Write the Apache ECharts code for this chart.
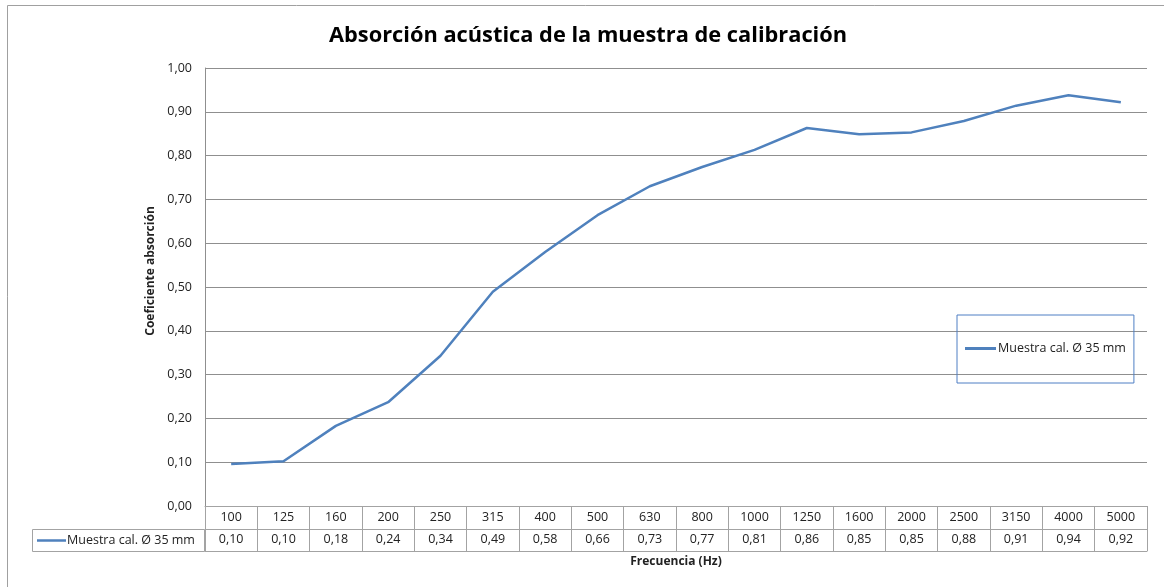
<!DOCTYPE html>
<html><head><meta charset="utf-8">
<script src="https://cdn.jsdelivr.net/npm/echarts@6/dist/echarts.min.js"></script>
<style>html,body{margin:0;padding:0;background:#fff}#c{width:1164px;height:587px}</style>
</head><body><div id="c"></div>
<script>
var categories = ['100','125','160','200','250','315','400','500','630','800','1000','1250','1600','2000','2500','3150','4000','5000'];
var values = [0.096,0.102,0.183,0.237,0.343,0.489,0.580,0.664,0.730,0.774,0.813,0.863,0.849,0.853,0.879,0.914,0.938,0.922];
var seriesName = 'Muestra cal. Ø 35 mm';
var yTicks = [0,0.1,0.2,0.3,0.4,0.5,0.6,0.7,0.8,0.9,1.0];

function fmt(v){ return v.toFixed(2).replace('.', ','); }
var tableLabels = values.map(fmt);

var FONT = '"Open Sans", "Liberation Sans", sans-serif';
var TXT = '#222';
var GRID = '#8f8f8f';
var TBL = '#a3a3a3';
var BLUE = '#4f81bd';
var FS = 12.5;

var chart = echarts.init(document.getElementById('c'));
chart.setOption({
  animation:false,
  backgroundColor:'#fff',
  textStyle:{fontFamily:FONT},
  title:{text:'Absorción acústica de la muestra de calibración',left:324,top:20,
    textStyle:{fontFamily:FONT,fontSize:21.8,fontWeight:'bold',color:'#000'}},
  grid:{left:205,right:17,top:68,bottom:81,containLabel:false},
  legend:{data:[seriesName],left:957,top:315,orient:'vertical',
    borderColor:'#4f7fc4',borderWidth:1,padding:[27,8,28,8],itemGap:0,
    itemWidth:31,itemHeight:3,icon:'rect',
    textStyle:{fontFamily:FONT,fontSize:FS,color:TXT,padding:[0,0,0,-3]}},
  xAxis:[
    {type:'category',data:categories,position:'bottom',boundaryGap:true,
     axisLine:{show:true,lineStyle:{color:TBL}},
     axisTick:{show:true,length:45,interval:0,lineStyle:{color:TBL}},
     axisLabel:{interval:0,margin:5,fontSize:FS,color:TXT,fontFamily:FONT}},
    {type:'category',data:tableLabels,position:'bottom',offset:23,boundaryGap:true,
     axisLine:{show:true,lineStyle:{color:TBL}},axisTick:{show:false},
     axisLabel:{interval:0,margin:4,fontSize:FS,color:TXT,fontFamily:FONT}},
    {type:'category',data:categories,position:'bottom',offset:45,boundaryGap:true,
     axisLine:{show:true,lineStyle:{color:TBL}},axisTick:{show:false},axisLabel:{show:false},
     name:'Frecuencia (Hz)',nameLocation:'middle',nameGap:5,
     nameTextStyle:{fontFamily:FONT,fontSize:12,color:TXT,fontWeight:'bold'}}
  ],
  yAxis:{type:'value',min:0,max:1,interval:0.1,
    axisLine:{show:true,lineStyle:{color:GRID}},axisTick:{show:false},
    splitLine:{show:true,lineStyle:{color:GRID,width:1}},
    axisLabel:{margin:13,fontSize:FS,color:TXT,fontFamily:FONT,formatter:function(v){return fmt(v);}},
    name:'Coeficiente absorción',nameLocation:'middle',nameGap:47,nameRotate:90,
    nameTextStyle:{fontFamily:FONT,fontSize:12,color:TXT,fontWeight:'bold',padding:[0,0,0,32]}},
  series:[{name:seriesName,type:'line',xAxisIndex:0,data:values,symbol:'none',smooth:false,
    lineStyle:{color:BLUE,width:2.5},itemStyle:{color:BLUE}}],
  graphic:[
    {type:'line',shape:{x1:7.5,y1:5.5,x2:1164,y2:5.5},style:{stroke:'#a0a0a0',lineWidth:1}},
    {type:'line',shape:{x1:7.5,y1:5.5,x2:7.5,y2:587},style:{stroke:'#a0a0a0',lineWidth:1}},
    {type:'rect',shape:{x:32.5,y:529.5,width:172,height:22},style:{fill:'none',stroke:TBL,lineWidth:1}},
    {type:'line',shape:{x1:37,y1:540.5,x2:66,y2:540.5},style:{stroke:BLUE,lineWidth:2.5}},
    {type:'text',x:67,y:540,style:{text:seriesName,fontFamily:FONT,fontSize:FS,fill:TXT,textVerticalAlign:'middle',verticalAlign:'middle'}}
  ]
});
</script></body></html>
